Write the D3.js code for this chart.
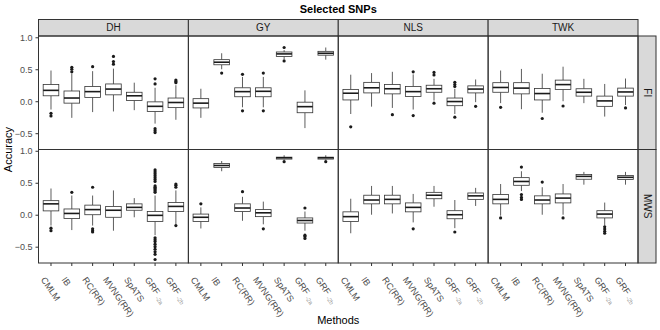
<!DOCTYPE html>
<html lang="en">
<head>
<meta charset="utf-8">
<title>Selected SNPs</title>
<script src="https://cdn.jsdelivr.net/npm/d3@7"></script>
<style>body{margin:0;background:#fff;}</style>
</head>
<body>
<script>
var methods = ["CMLM", "IB", "RC(RR)", "MVNG(RR)", "SpATS", "GRF_a", "GRF_b"];
var methodMain = ["CMLM", "IB", "RC(RR)", "MVNG(RR)", "SpATS", "GRF", "GRF"];
var methodSub = ["", "", "", "", "", "-2a", "-2b"];
var traits = ["DH", "GY", "NLS", "TWK"];
var rows = ["FI", "MWS"];
var yTicks = [-0.5, 0, 0.5, 1];

// per method: [lower whisker, q1, median, q3, upper whisker]
var fiDH = [[-0.13, 0.085, 0.17, 0.26, 0.48], [-0.26, -0.03, 0.05, 0.16, 0.43], [-0.17, 0.06, 0.15, 0.23, 0.47], [-0.16, 0.10, 0.19, 0.27, 0.51], [-0.14, 0.01, 0.085, 0.14, 0.29], [-0.35, -0.16, -0.08, -0.01, 0.21], [-0.29, -0.10, -0.02, 0.05, 0.25]];
var fiGY = [[-0.26, -0.105, -0.03, 0.04, 0.195], [0.50, 0.57, 0.61, 0.65, 0.75], [-0.095, 0.07, 0.15, 0.21, 0.38], [-0.095, 0.07, 0.155, 0.21, 0.38], [0.66, 0.70, 0.74, 0.77, 0.80], [-0.42, -0.18, -0.085, -0.015, 0.17], [0.65, 0.72, 0.75, 0.78, 0.84]];
var fiNLS = [[-0.20, 0.02, 0.125, 0.185, 0.415], [-0.085, 0.13, 0.21, 0.295, 0.44], [-0.105, 0.115, 0.195, 0.26, 0.46], [-0.13, 0.075, 0.15, 0.23, 0.42], [0.01, 0.14, 0.195, 0.25, 0.35], [-0.20, -0.07, -0.005, 0.05, 0.195], [-0.015, 0.13, 0.19, 0.24, 0.34]];
var fiTWK = [[-0.03, 0.14, 0.215, 0.29, 0.48], [-0.125, 0.115, 0.205, 0.29, 0.505], [-0.18, 0.02, 0.12, 0.20, 0.43], [0.0, 0.185, 0.26, 0.33, 0.54], [-0.03, 0.08, 0.14, 0.195, 0.35], [-0.24, -0.08, 0.005, 0.08, 0.27], [-0.06, 0.08, 0.145, 0.205, 0.355]];
var mwsDH = [[-0.17, 0.06, 0.17, 0.22, 0.41], [-0.24, -0.06, 0.02, 0.09, 0.30], [-0.17, 0.0, 0.08, 0.15, 0.30], [-0.25, -0.04, 0.07, 0.13, 0.38], [-0.04, 0.07, 0.115, 0.17, 0.26], [-0.32, -0.105, -0.01, 0.05, 0.30], [-0.15, 0.05, 0.13, 0.19, 0.38]];
var mwsGY = [[-0.215, -0.105, -0.04, 0.01, 0.115], [0.68, 0.74, 0.77, 0.80, 0.84], [-0.095, 0.05, 0.105, 0.17, 0.28], [-0.15, -0.03, 0.03, 0.08, 0.205], [0.86, 0.87, 0.89, 0.90, 0.93], [-0.25, -0.13, -0.09, -0.05, 0.05], [0.86, 0.87, 0.89, 0.90, 0.93]];
var mwsNLS = [[-0.29, -0.105, -0.03, 0.045, 0.25], [0.0, 0.17, 0.23, 0.305, 0.45], [0.02, 0.17, 0.24, 0.305, 0.45], [-0.12, 0.045, 0.115, 0.185, 0.325], [0.125, 0.25, 0.305, 0.35, 0.45], [-0.21, -0.063, 0.0, 0.063, 0.23], [0.137, 0.24, 0.295, 0.34, 0.42]];
var mwsTWK = [[-0.015, 0.17, 0.24, 0.315, 0.48], [0.37, 0.46, 0.52, 0.58, 0.68], [0.0, 0.17, 0.23, 0.295, 0.43], [0.0, 0.185, 0.26, 0.325, 0.48], [0.47, 0.555, 0.60, 0.63, 0.67], [-0.17, -0.05, 0.01, 0.063, 0.19], [0.47, 0.55, 0.585, 0.615, 0.67]];

// outliers per method
var outFiDH = [[-0.19, -0.23], [0.53, 0.50, 0.46], [0.54], [0.70, 0.62, 0.58], [], [0.35, 0.27, -0.43, -0.46, -0.49], [0.33, 0.31, 0.29]];
var outFiGY = [[], [0.44], [0.42, -0.15], [0.44, -0.15], [0.84, 0.63], [], []];
var outFiNLS = [[-0.40], [], [-0.21], [0.46, -0.225], [0.45, 0.41, -0.03], [0.295, 0.26, 0.23, -0.25], [-0.08]];
var outFiTWK = [[-0.095], [], [-0.27], [-0.075], [], [], [-0.105]];
var outMwsDH = [[-0.21, -0.25], [0.35], [0.43, -0.22, -0.25, -0.27], [], [], [0.70, 0.67, 0.64, 0.61, 0.58, 0.55, 0.52, 0.45, 0.43, 0.41, 0.39, 0.37, 0.35, -0.36, -0.39, -0.42, -0.46, -0.50, -0.54, -0.58, -0.62, -0.70], [0.48, 0.46, 0.43, -0.17]];
var outMwsGY = [[0.17], [], [0.36], [-0.22], [0.83], [0.105, -0.32, -0.34, -0.37], [0.83]];
var outMwsNLS = [[], [], [], [-0.22], [], [-0.27], []];
var outMwsTWK = [[-0.05], [0.745, 0.315, 0.27, 0.24], [0.51], [-0.05], [], [-0.19, -0.225, -0.26, -0.29], []];

var statTable = {FI: [fiDH, fiGY, fiNLS, fiTWK], MWS: [mwsDH, mwsGY, mwsNLS, mwsTWK]};
var outTable = {FI: [outFiDH, outFiGY, outFiNLS, outFiTWK], MWS: [outMwsDH, outMwsGY, outMwsNLS, outMwsTWK]};

var w = 660, h = 330;
var padL = 38.5, padR = 638, stripTop = 19.5, panelTop = 36, panelBottom = 263, stripW = 18;
var panelW = (padR - padL) / traits.length;
var panelH = (panelBottom - panelTop) / rows.length;

var svg = d3.select("body").append("svg")
    .attr("width", w)
    .attr("height", h)
    .style("font-family", "Liberation Sans, Arial, sans-serif");

var xScale = d3.scalePoint().domain(methods).range([0, panelW]).padding(0.6);
var boxW = xScale.step() * 0.75;

svg.append("text")
    .attr("x", (padL + padR) / 2)
    .attr("y", 13)
    .attr("text-anchor", "middle")
    .attr("font-size", "11px")
    .attr("font-weight", "bold")
    .text("Selected SNPs");

// top strips
traits.forEach(function(t, i) {
    var x0 = padL + i * panelW;
    svg.append("rect")
        .attr("x", x0).attr("y", stripTop)
        .attr("width", panelW).attr("height", panelTop - stripTop)
        .attr("fill", "#d9d9d9").attr("stroke", "#333").attr("stroke-width", 1);
    svg.append("text")
        .attr("x", x0 + panelW / 2).attr("y", (stripTop + panelTop) / 2)
        .attr("dy", "0.35em")
        .attr("text-anchor", "middle")
        .attr("font-size", "10px")
        .attr("fill", "#1a1a1a")
        .text(t);
});

rows.forEach(function(r, ri) {
    var y0 = panelTop + ri * panelH;
    var yScale = d3.scaleLinear().domain([-0.755, 1.02]).range([y0 + panelH, y0]);

    // right strip
    svg.append("rect")
        .attr("x", padR).attr("y", y0)
        .attr("width", stripW).attr("height", panelH)
        .attr("fill", "#d9d9d9").attr("stroke", "#333").attr("stroke-width", 1);
    svg.append("text")
        .attr("transform", "translate(" + (padR + stripW / 2) + "," + (y0 + panelH / 2) + ") rotate(90)")
        .attr("dy", "0.35em")
        .attr("text-anchor", "middle")
        .attr("font-size", "10px")
        .attr("fill", "#1a1a1a")
        .text(r);

    // y axis
    var yAxis = d3.axisLeft(yScale)
        .tickValues(yTicks)
        .tickSize(3)
        .tickFormat(function(d) { return d3.format(".1f")(d).replace("-", "\u2212"); });
    var gy = svg.append("g")
        .attr("transform", "translate(" + padL + ",0)")
        .call(yAxis);
    gy.select(".domain").remove();
    gy.selectAll("line").attr("stroke", "#333");
    gy.selectAll("text").attr("font-size", "9px").attr("fill", "#4d4d4d")
        .attr("font-family", "Liberation Sans, Arial, sans-serif");

    traits.forEach(function(t, ti) {
        var x0 = padL + ti * panelW;
        var g = svg.append("g").attr("transform", "translate(" + x0 + ",0)");
        var stats = statTable[r][ti];
        var outs = outTable[r][ti];

        methods.forEach(function(m, mi) {
            var s = stats[mi];
            var cx = xScale(m);
            var bg = g.append("g");
            bg.append("line")
                .attr("x1", cx).attr("x2", cx)
                .attr("y1", yScale(s[4])).attr("y2", yScale(s[3]))
                .attr("stroke", "#333").attr("stroke-width", 0.8);
            bg.append("line")
                .attr("x1", cx).attr("x2", cx)
                .attr("y1", yScale(s[1])).attr("y2", yScale(s[0]))
                .attr("stroke", "#333").attr("stroke-width", 0.8);
            bg.append("rect")
                .attr("x", cx - boxW / 2).attr("y", yScale(s[3]))
                .attr("width", boxW).attr("height", yScale(s[1]) - yScale(s[3]))
                .attr("fill", "#fff").attr("stroke", "#333").attr("stroke-width", 0.8);
            bg.append("line")
                .attr("x1", cx - boxW / 2).attr("x2", cx + boxW / 2)
                .attr("y1", yScale(s[2])).attr("y2", yScale(s[2]))
                .attr("stroke", "#1a1a1a").attr("stroke-width", 1.6);
            bg.selectAll("circle")
                .data(outs[mi])
                .enter()
                .append("circle")
                .attr("cx", cx)
                .attr("cy", function(d) { return yScale(d); })
                .attr("r", 1.6)
                .attr("fill", "#1a1a1a");
        });

        // panel border
        g.append("rect")
            .attr("x", 0).attr("y", y0)
            .attr("width", panelW).attr("height", panelH)
            .attr("fill", "none").attr("stroke", "#333").attr("stroke-width", 1);

        // x axis on bottom row
        if (ri === rows.length - 1) {
            methods.forEach(function(m, mi) {
                var cx = xScale(m);
                g.append("line")
                    .attr("x1", cx).attr("x2", cx)
                    .attr("y1", panelBottom).attr("y2", panelBottom + 3)
                    .attr("stroke", "#333");
                var lab = g.append("text")
                    .attr("transform", "translate(" + (cx - 8) + "," + 278 + ") rotate(55)")
                    .attr("dy", "0.35em")
                    .attr("font-size", "9px")
                    .attr("fill", "#4d4d4d")
                    .text(methodMain[mi]);
                if (methodSub[mi]) {
                    lab.append("tspan")
                        .attr("font-size", "6px")
                        .attr("dx", 2)
                        .attr("dy", "0.3em")
                        .attr("fill", "#999")
                        .text(methodSub[mi]);
                }
            });
        }
    });
});

svg.append("text")
    .attr("transform", "translate(12," + (panelTop + panelBottom) / 2 + ") rotate(-90)")
    .attr("text-anchor", "middle")
    .attr("font-size", "11px")
    .text("Accuracy");

svg.append("text")
    .attr("x", (padL + padR) / 2)
    .attr("y", 324)
    .attr("text-anchor", "middle")
    .attr("font-size", "11px")
    .text("Methods");
</script>
</body>
</html>
